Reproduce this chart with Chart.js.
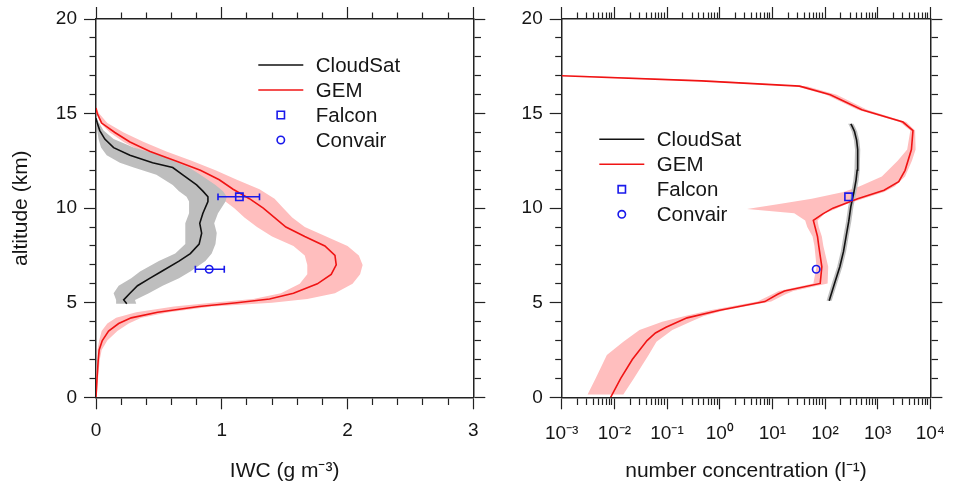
<!DOCTYPE html>
<html><head><meta charset="utf-8">
<script src="https://cdn.jsdelivr.net/npm/chart.js@4.4.1/dist/chart.umd.min.js"></script>
<style>
html,body{margin:0;padding:0;background:#fff;}
#wrap{position:relative;width:958px;height:489px;overflow:hidden;background:#fff;}
#c1{position:absolute;left:0;top:0;}
#c2{position:absolute;left:480px;top:0;}
</style></head><body>
<div id="wrap">
<canvas id="c1" width="500" height="489" style="width:500px;height:489px"></canvas>
<canvas id="c2" width="478" height="489" style="width:478px;height:489px"></canvas>
</div>
<script>
// ---------------- data: left panel, ice water content (g m-3) ----------------
const gemIwcAlt = [0,1,2,2.5,3,3.5,3.9,4.2,4.5,4.8,5.0,5.2,5.5,6.0,6.5,7.0,7.5,8.0,8.5,9.0,9.5,10,10.5,11,11.5,12,12.5,13,13.5,14,14.5,15,15.3];
const gemIwc    = [0,0.008,0.018,0.025,0.05,0.10,0.18,0.28,0.49,0.82,1.12,1.38,1.57,1.76,1.87,1.91,1.90,1.82,1.66,1.51,1.42,1.33,1.22,1.09,0.98,0.83,0.63,0.43,0.27,0.15,0.045,0.01,0];
const gemIwcLo  = [0,0.002,0.008,0.012,0.025,0.045,0.09,0.16,0.32,0.62,0.92,1.25,1.47,1.62,1.68,1.68,1.66,1.57,1.40,1.28,1.18,1.10,1.00,0.92,0.82,0.68,0.52,0.36,0.22,0.11,0.035,0.005,0];
const gemIwcHi  = [0.006,0.016,0.03,0.045,0.09,0.17,0.26,0.36,0.58,0.92,1.40,1.68,1.90,2.04,2.10,2.12,2.09,2.00,1.83,1.66,1.56,1.49,1.42,1.30,1.12,0.95,0.76,0.56,0.38,0.22,0.09,0.025,0.003];

const csIwcAlt = [4.94,5.15,5.5,5.9,6.3,6.65,7.2,7.6,8.1,8.68,9.2,9.73,10.35,10.6,10.9,11.23,11.76,12.15,12.4,12.8,13.2,13.65,14.1,14.5,14.75];
const csIwc    = [0.245,0.22,0.27,0.33,0.43,0.52,0.66,0.75,0.82,0.84,0.825,0.85,0.89,0.89,0.85,0.80,0.69,0.61,0.45,0.27,0.14,0.07,0.03,0.01,0];
const csIwcLo  = [0.165,0.16,0.14,0.18,0.28,0.35,0.50,0.63,0.71,0.71,0.71,0.74,0.74,0.72,0.66,0.61,0.48,0.30,0.19,0.085,0.04,0.02,0.01,0.003,0];
const csIwcHi  = [0.32,0.31,0.42,0.53,0.66,0.75,0.87,0.92,0.95,0.96,0.94,0.97,1.03,1.04,1.01,0.95,0.83,0.74,0.65,0.51,0.30,0.14,0.06,0.025,0];

// aircraft observations: [value, low, high] at altitude
const falconAlt = 10.6;
const falconIwc = [1.14, 0.97, 1.30];
const convairAlt = 6.77;
const convairIwc = [0.90, 0.79, 1.02];

// ---------------- data: right panel, number concentration (l-1) ----------------
const gemNAlt = [0,1,2,3,3.4,3.7,4.2,4.6,5.06,5.45,5.62,6.02,6.9,8.0,8.5,9.35,9.7,10.0,10.5,10.95,11.4,12.0,13.1,14.1,14.55,15.2,16.0,16.45,16.73,17.0];
const gemN    = [0.0085,0.0132,0.0219,0.0417,0.0603,0.0955,0.24,1.0,7.2,12.6,17,81,87,76,72,60,91,141,417,1320,2510,3310,4370,4680,3020,500,126,33,0.45,0.001];
const gemNBandAlt = [0.15,1.0,2.24,2.94,3.56,4.0,4.3,4.6,5.06,5.45,5.62,6.02,6.9,8.0,8.5,9.0,9.35,9.73,9.95,10.2,10.5,10.85,11.14,11.67,12.5,13.1,14.1,14.55,15.2,16.0,16.45,16.73,17.0];
const gemNLo  = [0.0031,0.0044,0.0072,0.0148,0.030,0.081,0.22,0.66,5.2,10,13.2,60,69,63,58,46,42,26,3.3,12.6,56,224,447,1200,2400,3630,4170,2630,417,105,28,0.32,0.001];
const gemNHi  = [0.0148,0.0234,0.0447,0.063,0.126,0.28,0.50,1.26,9.5,17.8,25,112,115,93,87,76,72,100,158,251,525,1320,2090,3310,4470,5250,5130,3470,631,166,45,0.79,0.0025];

const csNAlt = [5.1,6.0,6.9,7.7,8.5,9.3,10.08,10.8,11.5,12.0,13.1,13.6,14.05,14.3,14.46];
const csN    = [120,151,191,224,251,282,309,351,389,407,417,398,363,331,309];
const csNLo  = [107,134,170,199,223,251,275,312,346,362,371,354,323,295,275];
const csNHi  = [134,169,214,251,281,316,346,393,436,456,467,446,407,371,346];

const falconN = 280;
const convairN = 68;

// ---------------- ticks & labels ----------------
const altTicks = [0,1,2,3,4,5,6,7,8,9,10,11,12,13,14,15,16,17,18,19,20];
const altLabelTicks = [0,5,10,15,20];
const iwcTicks = [0,0.2,0.4,0.6,0.8,1,1.2,1.4,1.6,1.8,2,2.2,2.4,2.6,2.8,3];
const iwcLabelTicks = [0,1,2,3];
const concDecades = [0.001,0.01,0.1,1,10,100,1000,10000];
const concDecadeLabels = ['10\u207B\u00B3','10\u207B\u00B2','10\u207B\u00B9','10\u2070','10\u00B9','10\u00B2','10\u00B3','10\u2074'];
const concMinorMultipliers = [2,3,4,5,6,7,8,9];
const legendNames = ['CloudSat','GEM','Falcon','Convair'];

// ---------------- styling ----------------
const FONT = 'Liberation Sans, Arial, Helvetica, sans-serif';
const TEXT = '#161616';
const AXIS = '#222';
const RED = '#f01414';
const PINK = 'rgb(255,190,190)';
const GRAY = 'rgb(190,190,190)';
const GRAY2 = 'rgb(192,192,192)';
const BLUE = 'rgb(25,25,235)';
const MAJOR_LEN = 12, MINOR_LEN = 6.5;

Chart.defaults.font.family = FONT;
Chart.defaults.color = TEXT;

const concTicks = [];
concDecades.forEach((d, i) => {
  concTicks.push(d);
  if (i < concDecades.length - 1) concMinorMultipliers.forEach(m => concTicks.push(d * m));
});
const decadeIndex = v => concDecades.findIndex(d => Math.abs(v / d - 1) < 1e-6);
const isAltMajor = v => altLabelTicks.includes(v);
const isIwcMajor = v => iwcLabelTicks.includes(v);
const isConcMajor = v => decadeIndex(v) >= 0;

function tickGrid(isMajor, outerFirst) {
  return {
    display: true, drawOnChartArea: false, drawTicks: true,
    tickLength: MAJOR_LEN, tickColor: AXIS, tickWidth: 1.2,
    tickBorderDash: c => (c.tick && !isMajor(c.tick.value)) ? [MINOR_LEN, 1000] : [],
    tickBorderDashOffset: c => (c.tick && !isMajor(c.tick.value) && outerFirst) ? (2 * MINOR_LEN + 1000 - MAJOR_LEN) : 0
  };
}
const border = {display: true, color: AXIS, width: 1.5};

const pts = (xs, ys) => ys.map((y, i) => ({x: xs[i], y: y}));
const polygon = (lo, hi, ys) => pts(lo, ys).concat(pts(hi, ys).reverse());

function profileDatasets(p) {
  return [
    {label: 'Falcon', legendKind: 'rect', data: [{x: p.falcon[0], y: falconAlt}], showLine: false,
     pointStyle: 'rect', pointRadius: 5.2, pointBorderColor: BLUE, pointBackgroundColor: 'rgba(0,0,0,0)', pointBorderWidth: 1.6, order: 0},
    {label: 'Convair', legendKind: 'circle', data: [{x: p.convair[0], y: convairAlt}], showLine: false,
     pointStyle: 'circle', pointRadius: 3.7, pointBorderColor: BLUE, pointBackgroundColor: 'rgba(0,0,0,0)', pointBorderWidth: 1.6, order: 0},
    ...(p.falcon.length > 1 ? [
      {label: 'Falcon range', data: [{x: p.falcon[1], y: falconAlt}, {x: p.falcon[2], y: falconAlt}], showLine: true,
       borderColor: BLUE, borderWidth: 1.6, pointStyle: 'line', rotation: 90, pointRadius: 3.4, pointBorderColor: BLUE, pointBorderWidth: 1.6, order: 0},
      {label: 'Convair range', data: [{x: p.convair[1], y: convairAlt}, {x: p.convair[2], y: convairAlt}], showLine: true,
       borderColor: BLUE, borderWidth: 1.6, pointStyle: 'line', rotation: 90, pointRadius: 3.4, pointBorderColor: BLUE, pointBorderWidth: 1.6, order: 0}
    ] : []),
    {label: 'GEM', legendKind: 'line', data: p.gemLine, showLine: true, borderColor: RED, borderWidth: 1.6, pointRadius: 0, tension: 0, order: 1},
    {label: 'CloudSat', legendKind: 'line', data: p.csLine, showLine: true, borderColor: '#111', borderWidth: 1.6, pointRadius: 0, tension: 0, order: 1},
    {label: 'CloudSat spread', data: p.csBand, showLine: true, fill: 'shape', backgroundColor: p.grayColor, borderWidth: 0, borderColor: 'rgba(0,0,0,0)', pointRadius: 0, tension: 0, order: 2},
    {label: 'GEM spread', data: p.gemBand, showLine: true, fill: 'shape', backgroundColor: PINK, borderWidth: 0, borderColor: 'rgba(0,0,0,0)', pointRadius: 0, tension: 0, order: 3}
  ];
}

const panelLegend = {
  id: 'panelLegend',
  afterDatasetsDraw(chart, args, o) {
    const ctx = chart.ctx, ca = chart.chartArea;
    ctx.save();
    ctx.font = o.fontSize + 'px ' + FONT;
    ctx.textBaseline = 'middle';
    ctx.textAlign = 'left';
    legendNames.forEach((name, i) => {
      const ds = chart.data.datasets.find(d => d.label === name && d.legendKind);
      const y = ca.top + o.top + i * o.rowGap;
      const x0 = ca.left + o.left;
      const cx = x0 + o.lineLen / 2;
      if (ds.legendKind === 'line') {
        ctx.strokeStyle = ds.borderColor; ctx.lineWidth = ds.borderWidth;
        ctx.beginPath(); ctx.moveTo(x0, y); ctx.lineTo(x0 + o.lineLen, y); ctx.stroke();
      } else {
        ctx.strokeStyle = ds.pointBorderColor; ctx.lineWidth = ds.pointBorderWidth;
        ctx.beginPath();
        if (ds.legendKind === 'rect') {
          const s = Math.SQRT1_2 * ds.pointRadius;
          ctx.rect(cx - s, y - s, 2 * s, 2 * s);
        } else {
          ctx.arc(cx, y, ds.pointRadius, 0, Math.PI * 2);
        }
        ctx.stroke();
      }
      ctx.fillStyle = TEXT;
      ctx.fillText(name, x0 + o.textX, y + 1);
    });
    ctx.restore();
  }
};

const tickFont = {family: FONT, size: 19};
const titleFont = {family: FONT, size: 21};

// ---------------- left chart ----------------
new Chart(document.getElementById('c1'), {
  type: 'scatter',
  data: {datasets: profileDatasets({
    falcon: falconIwc, convair: convairIwc, grayColor: GRAY,
    gemLine: pts(gemIwc, gemIwcAlt), csLine: pts(csIwc, csIwcAlt),
    gemBand: polygon(gemIwcLo, gemIwcHi, gemIwcAlt), csBand: polygon(csIwcLo, csIwcHi, csIwcAlt)
  })},
  plugins: [panelLegend],
  options: {
    responsive: false, animation: false, events: [],
    layout: {padding: 0, autoPadding: false},
    plugins: {legend: {display: false}, tooltip: {enabled: false},
      panelLegend: {left: 162.3, top: 46, lineLen: 45, textX: 57.5, rowGap: 25, fontSize: 20.5}},
    scales: {
      x: {type: 'linear', position: 'bottom', min: 0, max: 3,
        afterBuildTicks: s => { s.ticks = iwcTicks.map(v => ({value: v})); },
        afterFit: s => { s.height = 91.7; },
        ticks: {autoSkip: false, maxRotation: 0, minRotation: 0, padding: 10, font: tickFont, color: TEXT,
          callback: v => isIwcMajor(v) ? String(v) : ''},
        grid: tickGrid(isIwcMajor, false), border: border,
        title: {display: true, text: 'IWC (g m\u207B\u00B3)', font: titleFont, color: TEXT, padding: {top: 0, bottom: 5}}},
      x2: {type: 'linear', position: 'top', min: 0, max: 3,
        afterBuildTicks: s => { s.ticks = iwcTicks.map(v => ({value: v})); },
        afterFit: s => { s.height = 19; },
        ticks: {display: false}, grid: tickGrid(isIwcMajor, true), border: border},
      y: {type: 'linear', position: 'left', min: 0, max: 20,
        afterBuildTicks: s => { s.ticks = altTicks.map(v => ({value: v})); },
        afterFit: s => { s.width = 96; },
        ticks: {autoSkip: false, padding: 7, font: tickFont, color: TEXT,
          callback: v => isAltMajor(v) ? String(v) : ''},
        grid: tickGrid(isAltMajor, true), border: border,
        title: {display: true, text: 'altitude (km)', font: titleFont, color: TEXT, padding: {top: 9, bottom: 0}}},
      y2: {type: 'linear', position: 'right', min: 0, max: 20,
        afterBuildTicks: s => { s.ticks = altTicks.map(v => ({value: v})); },
        afterFit: s => { s.width = 26.7; },
        ticks: {display: false}, grid: tickGrid(isAltMajor, false), border: border}
    }
  }
});

// ---------------- right chart ----------------
new Chart(document.getElementById('c2'), {
  type: 'scatter',
  data: {datasets: profileDatasets({
    falcon: [falconN], convair: [convairN], grayColor: GRAY2,
    gemLine: pts(gemN, gemNAlt), csLine: pts(csN, csNAlt),
    gemBand: polygon(gemNLo, gemNHi, gemNBandAlt), csBand: polygon(csNLo, csNHi, csNAlt)
  })},
  plugins: [panelLegend],
  options: {
    responsive: false, animation: false, events: [],
    layout: {padding: 0, autoPadding: false},
    plugins: {legend: {display: false}, tooltip: {enabled: false},
      panelLegend: {left: 37.6, top: 120.3, lineLen: 45, textX: 57.5, rowGap: 25, fontSize: 20.5}},
    scales: {
      x: {type: 'logarithmic', position: 'bottom', min: 0.001, max: 10000,
        afterBuildTicks: s => { s.ticks = concTicks.map(v => ({value: v})); },
        afterFit: s => { s.height = 91.7; },
        ticks: {autoSkip: false, maxRotation: 0, minRotation: 0, padding: 13, font: tickFont, color: TEXT,
          callback: v => { const i = decadeIndex(v); return i >= 0 ? concDecadeLabels[i] : ''; }},
        grid: tickGrid(isConcMajor, false), border: border,
        title: {display: true, text: 'number concentration (l\u207B\u00B9)', font: titleFont, color: TEXT, padding: {top: 0, bottom: 5}}},
      x2: {type: 'logarithmic', position: 'top', min: 0.001, max: 10000,
        afterBuildTicks: s => { s.ticks = concTicks.map(v => ({value: v})); },
        afterFit: s => { s.height = 19; },
        ticks: {display: false}, grid: tickGrid(isConcMajor, true), border: border},
      y: {type: 'linear', position: 'left', min: 0, max: 20,
        afterBuildTicks: s => { s.ticks = altTicks.map(v => ({value: v})); },
        afterFit: s => { s.width = 81.7; },
        ticks: {autoSkip: false, padding: 7, font: tickFont, color: TEXT,
          callback: v => isAltMajor(v) ? String(v) : ''},
        grid: tickGrid(isAltMajor, true), border: border},
      y2: {type: 'linear', position: 'right', min: 0, max: 20,
        afterBuildTicks: s => { s.ticks = altTicks.map(v => ({value: v})); },
        afterFit: s => { s.width = 18; },
        ticks: {display: false}, grid: tickGrid(isAltMajor, false), border: border}
    }
  }
});
</script>
</body></html>
